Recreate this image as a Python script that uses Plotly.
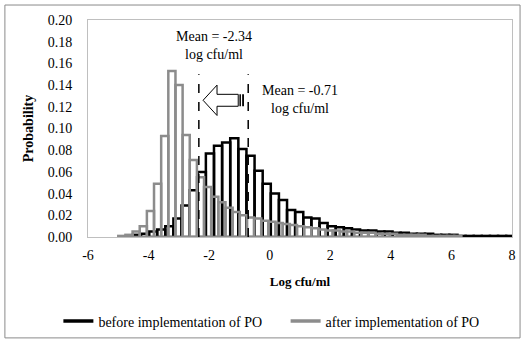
import numpy as np
import plotly.graph_objects as go

# Histogram of log concentrations (probability per bin)
BEFORE_BIN_START = -4.52
BEFORE_BIN_WIDTH = 0.268
before_prob = [
    0.002, 0.003, 0.005, 0.007, 0.010, 0.017, 0.029, 0.043, 0.060, 0.077,
    0.084, 0.087, 0.091, 0.081, 0.075, 0.061, 0.049, 0.040, 0.034, 0.025,
    0.023, 0.018, 0.017, 0.013, 0.010, 0.009, 0.008, 0.007, 0.006, 0.006,
    0.005, 0.005, 0.004, 0.004, 0.003, 0.003, 0.003, 0.002, 0.002, 0.002,
    0.001, 0.001, 0.001, 0.001, 0.001, 0.001, 0.001,
]

AFTER_BIN_START = -5.0
AFTER_BIN_WIDTH = 0.236
after_prob = [
    0.001, 0.002, 0.005, 0.010, 0.024, 0.049, 0.093, 0.153, 0.140, 0.094,
    0.071, 0.055, 0.046, 0.037, 0.032, 0.027, 0.023, 0.020, 0.018, 0.017,
    0.015, 0.014, 0.013, 0.012, 0.011, 0.010, 0.009, 0.008, 0.007, 0.006,
    0.006, 0.005, 0.005, 0.004, 0.004, 0.004, 0.003, 0.003, 0.003, 0.002,
    0.002, 0.002, 0.002, 0.001, 0.001, 0.001, 0.001, 0.001,
]

MEAN_BEFORE = -0.71
MEAN_AFTER = -2.34
MEAN_LINE_TOP = 0.15

SERIES_NAMES = ["before implementation of PO", "after implementation of PO"]
X_TICKS = [-6, -4, -2, 0, 2, 4, 6, 8]

FONT = "Liberation Serif, Times New Roman, serif"
BLACK = "#000000"
GREY = "#8C8C8C"


def centres(start, width, n):
    return start + width * (np.arange(n) + 0.5)


fig = go.Figure()

fig.add_trace(go.Bar(
    x=centres(BEFORE_BIN_START, BEFORE_BIN_WIDTH, len(before_prob)),
    y=before_prob, width=BEFORE_BIN_WIDTH,
    marker=dict(color="rgba(0,0,0,0)", line=dict(color=BLACK, width=2.5)),
    showlegend=False, hoverinfo="x+y",
))
fig.add_trace(go.Bar(
    x=centres(AFTER_BIN_START, AFTER_BIN_WIDTH, len(after_prob)),
    y=after_prob, width=AFTER_BIN_WIDTH,
    marker=dict(color="rgba(0,0,0,0)", line=dict(color=GREY, width=2.5)),
    showlegend=False, hoverinfo="x+y",
))

# legend entries drawn as thick line samples, one legend box per series
for name, col, leg in zip(SERIES_NAMES, [BLACK, GREY], ["legend", "legend2"]):
    fig.add_trace(go.Scatter(x=[None], y=[None], mode="lines", name=name,
                             legend=leg, line=dict(color=col, width=3.5)))

shapes = []
# dashed mean markers
for m in (MEAN_AFTER, MEAN_BEFORE):
    shapes.append(dict(type="line", xref="x", yref="y", x0=m, x1=m, y0=0,
                       y1=MEAN_LINE_TOP, line=dict(color=BLACK, width=1.5, dash="dash")))

# block arrow showing the shift of the mean
tip, head_base, body_end = MEAN_AFTER + 0.14, MEAN_AFTER + 0.60, MEAN_BEFORE - 0.33
yc, head_h, shaft_h = 0.126, 0.014, 0.0055
arrow_path = (
    f"M {tip},{yc} L {head_base},{yc + head_h} L {head_base},{yc + shaft_h} "
    f"L {body_end},{yc + shaft_h} L {body_end},{yc - shaft_h} "
    f"L {head_base},{yc - shaft_h} L {head_base},{yc - head_h} Z"
)
shapes.append(dict(type="path", xref="x", yref="y", path=arrow_path,
                   fillcolor="white", line=dict(color=BLACK, width=1)))
for a, b in ((MEAN_BEFORE - 0.29, MEAN_BEFORE - 0.24), (MEAN_BEFORE - 0.20, MEAN_BEFORE - 0.14)):
    shapes.append(dict(type="rect", xref="x", yref="y", x0=a, x1=b,
                       y0=yc - shaft_h, y1=yc + shaft_h, fillcolor=BLACK,
                       line=dict(width=0)))

# outer chart border
shapes.append(dict(type="rect", xref="paper", yref="paper", x0=-0.196, x1=1.019,
                   y0=-0.465, y1=1.069, line=dict(color="#8A8A8A", width=1),
                   fillcolor="rgba(0,0,0,0)", layer="below"))

annotations = [
    dict(x=MEAN_AFTER + 0.50, y=0.1765, xref="x", yref="y",
         text=f"Mean = {MEAN_AFTER:.2f}<br>log cfu/ml", showarrow=False,
         font=dict(family=FONT, size=14, color=BLACK), align="center"),
    dict(x=MEAN_BEFORE + 1.70, y=0.127, xref="x", yref="y",
         text=f"Mean = {MEAN_BEFORE:.2f}<br>log cfu/ml", showarrow=False,
         font=dict(family=FONT, size=14, color=BLACK), align="center"),
]

legend_style = dict(orientation="h", xref="container", xanchor="left",
                    yref="container", y=0.06, yanchor="middle",
                    font=dict(family=FONT, size=14), bgcolor="rgba(0,0,0,0)")

fig.update_layout(
    width=526, height=342,
    margin=dict(l=88, r=14, t=20, b=105, autoexpand=False),
    paper_bgcolor="white", plot_bgcolor="white",
    barmode="overlay",
    font=dict(family=FONT, size=14, color=BLACK),
    shapes=shapes, annotations=annotations,
    legend=dict(x=0.111, **legend_style),
    legend2=dict(x=0.543, **legend_style),
)
fig.update_xaxes(
    range=[-6, 8], tickmode="array", tickvals=X_TICKS,
    ticktext=[str(v) for v in X_TICKS],
    showgrid=False, zeroline=False, showline=True, mirror=True,
    linecolor="#BFBFBF", linewidth=1, ticks="", automargin=False,
    tickfont=dict(family=FONT, size=14), ticklabelstandoff=5,
    title=dict(text="<b>Log cfu/ml</b>", font=dict(family=FONT, size=13), standoff=15),
)
fig.update_yaxes(
    range=[0, 0.2], dtick=0.02, tick0=0, tickformat=".2f",
    showgrid=False, zeroline=False, showline=True, mirror=True,
    linecolor="#BFBFBF", linewidth=1, ticks="", automargin=False,
    tickfont=dict(family=FONT, size=14), ticklabelstandoff=12,
    title=dict(text="<b>Probability</b>", font=dict(family=FONT, size=14), standoff=10),
)

fig.write_html("out.html")
